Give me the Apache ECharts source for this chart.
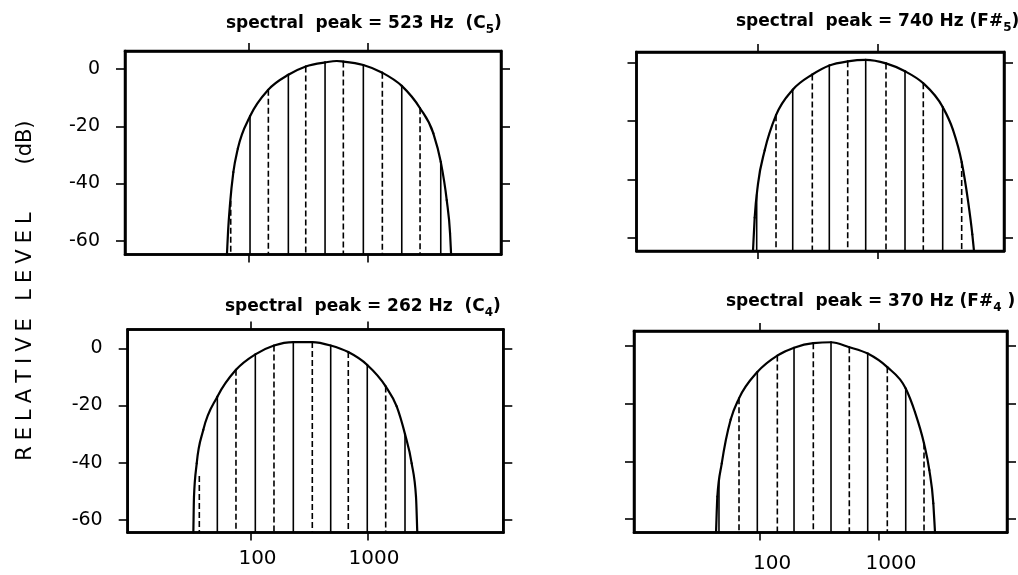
<!DOCTYPE html>
<html>
<head>
<meta charset="utf-8">
<script src="https://cdn.jsdelivr.net/npm/echarts@6/dist/echarts.min.js"></script>
<style>
html, body { margin: 0; padding: 0; background: #ffffff; }
#chart { width: 1018px; height: 575px; }
</style>
</head>
<body>
<div id="chart"></div>
<script>
// ---------------- data ----------------
const xTickValues = [100, 1000];
const xTickLabels = ['100', '1000'];
const yTickValues = [0, -20, -40, -60];
const yTickLabels = ['0', '-20', '-40', '-60'];
const yAxisTitleWords = ['RELATIVE', 'LEVEL', '(dB)'];

// panel: spectral peak = 523 Hz (C5)
const c5Title = ['spectral  peak = 523 Hz  (C', '5', ')'];
const c5SolidFreq  = [103.3, 216.3, 439, 918.6, 1927, 4087];
const c5SolidLevel = [-16.5, -2.0, 2.3, 1.4, -5.9, -32.4];
const c5DashFreq   = [71.2, 147.1, 302.5, 624.5, 1325, 2742];
const c5DashLevel  = [-46, -7.2, 0.9, 2.6, -1.3, -13.7];
const c5EnvFreq  = [66.2, 67.6, 70.3, 74.9, 81.7, 103.3, 147.1, 216.3, 302.5, 439, 550, 624.5, 918.6, 1325, 1927, 2742, 3544, 4087, 4587, 4890, 4989];
const c5EnvLevel = [-64.8, -57, -47, -36, -27.8, -16.5, -7.2, -2.0, 0.9, 2.3, 2.8, 2.6, 1.4, -1.3, -5.9, -13.7, -22.5, -32.4, -45.8, -57.4, -64.8];

// panel: spectral peak = 740 Hz (F#5)
const fs5Title = ['spectral  peak = 740 Hz (F#', '5', ')'];
const fs5SolidFreq  = [97.5, 195.2, 395.1, 796.6, 1699, 3512];
const fs5SolidLevel = [-45, -9.3, -1.0, 0.9, -3.0, -15.2];
const fs5DashFreq   = [141.5, 284.7, 563.2, 1178, 2417, 5064];
const fs5DashLevel  = [-18.0, -4.1, 0.4, -0.3, -7.1, -34];
const fs5EnvFreq  = [90.8, 93.8, 100, 113.8, 141.5, 195.2, 284.7, 395.1, 563.2, 796.6, 1178, 1699, 2417, 3512, 4283, 5064, 5719, 6215, 6419];
const fs5EnvLevel = [-64.4, -53, -41.5, -30, -18.0, -9.3, -4.1, -1.0, 0.4, 0.9, -0.3, -3.0, -7.1, -15.2, -23.0, -34, -47.2, -58.7, -64.4];

// panel: spectral peak = 262 Hz (C4)
const c4Title = ['spectral  peak = 262 Hz  (C', '4', ')'];
const c4SolidFreq  = [51.4, 108.9, 230.8, 483.2, 995.6, 2099];
const c4SolidLevel = [-16.9, -2.1, 2.2, 1.0, -5.8, -30];
const c4DashFreq   = [36.0, 74.3, 157.5, 335.9, 684.1, 1433];
const c4DashLevel  = [-44.6, -7.5, 1.0, 2.2, -1.3, -13.3];
const c4EnvFreq  = [32.0, 32.4, 34.2, 38.96, 51.4, 74.3, 108.9, 157.5, 230.8, 335.9, 483.2, 684.1, 995.6, 1433, 1781, 2099, 2395, 2609, 2676];
const c4EnvLevel = [-64.4, -51.9, -40.2, -28.5, -16.9, -7.5, -2.1, 1.0, 2.2, 2.2, 1.0, -1.3, -5.8, -13.3, -20.3, -30, -40.2, -51.9, -64.4];

// panel: spectral peak = 370 Hz (F#4)
const fs4Title = ['spectral  peak = 370 Hz (F#', '4', ' )'];
const fs4SolidFreq  = [45.2, 94.9, 193.1, 395.0, 803.6, 1677];
const fs4SolidLevel = [-46, -9.1, -0.7, 1.2, -2.7, -14.8];
const fs4DashFreq   = [66.6, 139.8, 280.5, 562.9, 1174, 2389];
const fs4DashLevel  = [-18.2, -3.4, 0.9, -0.5, -7.4, -33.8];
const fs4EnvFreq  = [42.7, 43.8, 47.7, 56.7, 66.6, 94.9, 139.8, 193.1, 280.5, 395.0, 562.9, 803.6, 1174, 1677, 2007, 2389, 2647, 2860, 2955];
const fs4EnvLevel = [-64.6, -52.2, -40.7, -25.5, -18.2, -9.1, -3.4, -0.7, 0.9, 1.2, -0.5, -2.7, -7.4, -14.8, -23.0, -33.8, -43, -54.5, -64.6];

// axis ranges of each panel (as drawn)
const c5XRange = [9.27, 13060],  c5YRange = [-64.8, 6.3];
const fs5XRange = [9.62, 11445], fs5YRange = [-64.4, 3.6];
const c4XRange = [8.74, 14650],  c4YRange = [-64.4, 6.6];
const fs4XRange = [8.73, 11900], fs4YRange = [-64.6, 5.1];

// ---------------- layout & styling ----------------
const FONT = 'DejaVu Sans';
const INK = '#000000';

const panels = [
  { title: c5Title, solidF: c5SolidFreq, solidL: c5SolidLevel, dashF: c5DashFreq, dashL: c5DashLevel,
    envF: c5EnvFreq, envL: c5EnvLevel, xr: c5XRange, yr: c5YRange,
    rect: { left: 125, top: 51, width: 376, height: 203.5 }, showX: false, showY: true,
    titlePos: [226, 24], xLabelMargin: 16, xShift: 0 },
  { title: fs5Title, solidF: fs5SolidFreq, solidL: fs5SolidLevel, dashF: fs5DashFreq, dashL: fs5DashLevel,
    envF: fs5EnvFreq, envL: fs5EnvLevel, xr: fs5XRange, yr: fs5YRange,
    rect: { left: 636.5, top: 52, width: 367.5, height: 199 }, showX: false, showY: false,
    titlePos: [736, 22], xLabelMargin: 16, xShift: 0 },
  { title: c4Title, solidF: c4SolidFreq, solidL: c4SolidLevel, dashF: c4DashFreq, dashL: c4DashLevel,
    envF: c4EnvFreq, envL: c4EnvLevel, xr: c4XRange, yr: c4YRange,
    rect: { left: 127.7, top: 329.5, width: 375.6, height: 203 }, showX: true, showY: true,
    titlePos: [225, 307], xLabelMargin: 16, xShift: 13 },
  { title: fs4Title, solidF: fs4SolidFreq, solidL: fs4SolidLevel, dashF: fs4DashFreq, dashL: fs4DashLevel,
    envF: fs4EnvFreq, envL: fs4EnvLevel, xr: fs4XRange, yr: fs4YRange,
    rect: { left: 634, top: 331, width: 373, height: 201.5 }, showX: true, showY: false,
    titlePos: [726, 302], xLabelMargin: 21, xShift: 24 }
];

const grids = [], xAxes = [], yAxes = [], series = [], graphics = [];

function stemSeries(idx, freqs, levels, dashed, yMin) {
  return {
    type: 'custom',
    xAxisIndex: idx * 2,
    yAxisIndex: idx * 2,
    silent: true,
    animation: false,
    z: 3,
    data: freqs.map((f, k) => [f, levels[k]]),
    encode: { x: 0, y: 1 },
    renderItem: function (params, api) {
      const top = api.coord([api.value(0), api.value(1)]);
      const bot = api.coord([api.value(0), yMin]);
      return {
        type: 'line',
        shape: { x1: top[0], y1: top[1], x2: bot[0], y2: bot[1] },
        style: { stroke: INK, lineWidth: 1.6, lineDash: dashed ? [6, 3] : null, fill: null }
      };
    }
  };
}

// smooth (shape-preserving cubic) curve through the envelope points, in screen space
function envelopeSeries(idx, freqs, levels) {
  return {
    type: 'custom',
    xAxisIndex: idx * 2,
    yAxisIndex: idx * 2,
    silent: true,
    animation: false,
    z: 4,
    data: freqs.map((f, k) => [f, levels[k]]),
    encode: { x: 0, y: 1 },
    renderItem: function (params, api) {
      if (params.dataIndex !== 0) return null;
      const pts = freqs.map((f, k) => api.coord([f, levels[k]]));
      const n = pts.length;
      const h = [], s = [];
      for (let i = 0; i < n - 1; i++) {
        h[i] = pts[i + 1][0] - pts[i][0];
        s[i] = (pts[i + 1][1] - pts[i][1]) / h[i];
      }
      const m = new Array(n);
      for (let i = 1; i < n - 1; i++) {
        const pp = (s[i - 1] * h[i] + s[i] * h[i - 1]) / (h[i - 1] + h[i]);
        m[i] = (Math.sign(s[i - 1]) + Math.sign(s[i])) *
               Math.min(Math.abs(s[i - 1]), Math.abs(s[i]), 0.5 * Math.abs(pp));
      }
      m[0] = s[0];
      m[n - 1] = s[n - 2];
      const children = [];
      for (let i = 0; i < n - 1; i++) {
        const x0 = pts[i][0], y0 = pts[i][1], x1 = pts[i + 1][0], y1 = pts[i + 1][1];
        const d = h[i] / 3;
        children.push({
          type: 'bezierCurve',
          shape: { x1: x0, y1: y0, x2: x1, y2: y1,
                   cpx1: x0 + d, cpy1: y0 + m[i] * d, cpx2: x1 - d, cpy2: y1 - m[i + 1] * d },
          style: { stroke: INK, lineWidth: 2.2, fill: null, lineCap: 'round', lineJoin: 'round' }
        });
      }
      return { type: 'group', children: children };
    }
  };
}

panels.forEach((p, i) => {
  grids.push(Object.assign({ show: true, borderColor: INK, borderWidth: 2.5, backgroundColor: 'transparent', containLabel: false }, p.rect));

  ['bottom', 'top'].forEach(pos => {
    const isMain = pos === 'bottom';
    xAxes.push({
      gridIndex: i, type: 'log', logBase: 10, min: p.xr[0], max: p.xr[1], position: pos,
      axisLine: { show: true, onZero: false, lineStyle: { color: INK, width: 2.5 } },
      splitLine: { show: false }, minorTick: { show: false }, minorSplitLine: { show: false },
      axisTick: { show: true, inside: false, length: 8, customValues: xTickValues, lineStyle: { color: INK, width: 1.6 } },
      axisLabel: {
        show: isMain && p.showX, customValues: xTickValues,
        formatter: v => { const k = xTickValues.indexOf(v); return k >= 0 ? xTickLabels[k] : String(v); },
        margin: p.xLabelMargin, color: INK, fontFamily: FONT, fontSize: 20,
        padding: [0, 0, 0, p.xShift]
      }
    });
  });
  ['left', 'right'].forEach(pos => {
    const isMain = pos === 'left';
    yAxes.push({
      gridIndex: i, type: 'value', min: p.yr[0], max: p.yr[1], position: pos,
      axisLine: { show: true, onZero: false, lineStyle: { color: INK, width: 2.5 } },
      splitLine: { show: false },
      axisTick: { show: true, inside: false, length: 9, customValues: yTickValues, lineStyle: { color: INK, width: 1.6 } },
      axisLabel: {
        show: isMain && p.showY, customValues: yTickValues,
        formatter: v => { const k = yTickValues.indexOf(v); return k >= 0 ? yTickLabels[k] : String(v); },
        margin: 25, color: INK, fontFamily: FONT, fontSize: 19
      }
    });
  });

  series.push(stemSeries(i, p.solidF, p.solidL, false, p.yr[0]));
  series.push(stemSeries(i, p.dashF, p.dashL, true, p.yr[0]));
  series.push(envelopeSeries(i, p.envF, p.envL));

  graphics.push({
    type: 'text', x: p.titlePos[0], y: p.titlePos[1], silent: true,
    style: {
      text: '{m|' + p.title[0] + '}{s|' + p.title[1] + '}{m|' + p.title[2] + '}',
      align: 'left', verticalAlign: 'middle', fill: INK,
      rich: {
        m: { fontFamily: FONT, fontWeight: 'bold', fontSize: 17, lineHeight: 24, fill: INK },
        s: { fontFamily: FONT, fontWeight: 'bold', fontSize: 12, lineHeight: 14, verticalAlign: 'bottom', fill: INK }
      }
    }
  });
});

// rotated y-axis title, one text per word
const wordCenters = [389.5, 256.5, 142.5];
yAxisTitleWords.forEach((w, k) => {
  const spaced = k < 2;
  const txt = spaced ? w.split('').map(ch => '{l|' + ch + '}').join('') : '{n|' + w + '}';
  graphics.push({
    type: 'text', x: 26, y: wordCenters[k], rotation: Math.PI / 2, silent: true,
    style: {
      text: txt, align: 'center', verticalAlign: 'middle', fill: INK,
      rich: {
        l: { fontFamily: FONT, fontSize: 21, padding: [0, 3, 0, 3], fill: INK },
        n: { fontFamily: FONT, fontSize: 21, fill: INK }
      }
    }
  });
});

const chart = echarts.init(document.getElementById('chart'), null, { renderer: 'canvas' });
chart.setOption({
  backgroundColor: '#ffffff',
  animation: false,
  grid: grids,
  xAxis: xAxes,
  yAxis: yAxes,
  series: series,
  graphic: graphics
});
</script>
</body>
</html>
